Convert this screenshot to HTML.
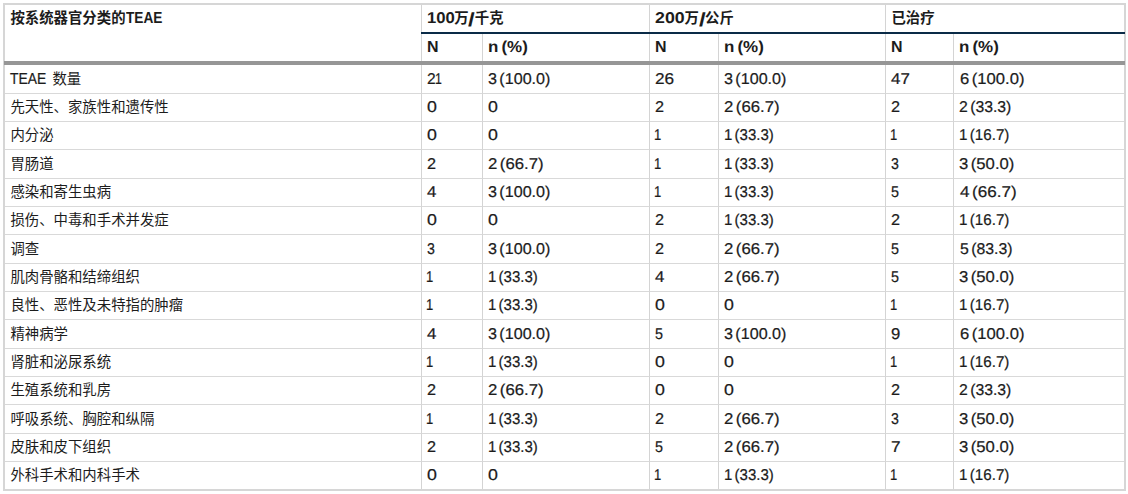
<!DOCTYPE html>
<html lang="zh-CN">
<head>
<meta charset="utf-8">
<title>TEAE</title>
<style>
html,body{margin:0;padding:0;background:#fff;}
body{width:1128px;height:494px;overflow:hidden;position:relative;font-family:"Liberation Sans","Noto Sans CJK SC",sans-serif;font-size:14.4px;color:#1c1c1c;}
table.t{position:absolute;left:3px;top:3px;width:1123px;table-layout:fixed;border-collapse:separate;border-spacing:0;border:2px solid #d6d6d6;}
col.c1{width:417px}col.c2{width:61px}col.c3{width:167px}col.c4{width:69px}col.c5{width:167px}col.c6{width:68px}col.c7{width:170px}
th,td{box-sizing:border-box;padding:0 0 0 5.4px;margin:0;text-align:left;white-space:nowrap;overflow:hidden;border-right:1px solid #d4d4d4;border-bottom:1px solid #d9d9d9;font-weight:normal;vertical-align:top;}
th.last,td.last{border-right:0}
tr.h1 th{height:29px;line-height:27px;border-bottom:2px solid transparent;font-weight:bold}
tr.h1 th.first{height:60px;border-bottom:4px solid transparent}
tr.h2 th{height:31px;line-height:27px;border-bottom:4px solid transparent;font-weight:bold}
tr.r28 td{height:29px;line-height:28px}
tr.r27 td{height:28px;line-height:27px}
tr.end td{border-bottom:0;height:27px}
span.cj{font-family:"Liberation Sans","Noto Sans CJK SC",sans-serif;font-size:14.4px;color:#1c1c1c;vertical-align:baseline}
span.l,span.lb{text-rendering:geometricPrecision;display:inline-block;transform-origin:0 84.65%;line-height:1;vertical-align:baseline}
span.l{-webkit-text-stroke:0.22px #1c1c1c}
span.lb{font-weight:bold}
div.navy{position:absolute;left:421px;top:32px;width:704px;height:2px;background:#0a2b47}
div.rule{position:absolute;left:4px;top:61px;width:1121px;height:4px;background:#969696}
</style>
</head>
<body>
<table class="t">
<colgroup><col class="c1"><col class="c2"><col class="c3"><col class="c4"><col class="c5"><col class="c6"><col class="c7"></colgroup>
<thead>
<tr class="h1"><th rowspan="2" class="first"><span class="cj">按系统器官分类的</span><span class="lb" style="font-size:15.9px;transform:scaleX(0.8581);margin:0 -6.02px 0 0.15px">TEAE</span></th><th colspan="2" class="g"><span class="lb" style="font-size:15.6px;transform:scaleX(1.0694);margin:0 1.42px 0 -0.65px">100</span><span class="cj">万</span><span class="l" style="font-size:19px;transform:scaleX(1.2692);margin:0 1.12px 0 -0.2px;position:relative;top:2.6px;-webkit-text-stroke:0">/</span><span class="cj">千克</span></th><th colspan="2" class="g"><span class="lb" style="font-size:15.6px;transform:scaleX(1.139);margin:0 3.19px 0 -0.22px">200</span><span class="cj">万</span><span class="l" style="font-size:19px;transform:scaleX(1.2692);margin:0 1.12px 0 -0.2px;position:relative;top:2.6px;-webkit-text-stroke:0">/</span><span class="cj">公斤</span></th><th colspan="2" class="g last"><span class="cj">已治疗</span></th></tr>
<tr class="h2"><th><span class="lb" style="font-size:15.9px;transform:scaleX(1.0056);margin:0 0.06px 0 -0.57px">N</span></th><th><span class="lb" style="font-size:15.9px;transform:scaleX(1.0671);margin:0 2.51px 0 -0.62px;word-spacing:-1.5px">n (%)</span></th><th><span class="lb" style="font-size:15.9px;transform:scaleX(1.0056);margin:0 0.06px 0 -0.57px">N</span></th><th><span class="lb" style="font-size:15.9px;transform:scaleX(1.0671);margin:0 2.51px 0 -0.62px;word-spacing:-1.5px">n (%)</span></th><th><span class="lb" style="font-size:15.9px;transform:scaleX(1.0056);margin:0 0.06px 0 -0.57px">N</span></th><th class="last"><span class="lb" style="font-size:15.9px;transform:scaleX(1.0671);margin:0 2.51px 0 -0.62px;word-spacing:-1.5px">n (%)</span></th></tr>
</thead>
<tbody>
<tr class="r28"><td><span class="l" style="font-size:15.9px;transform:scaleX(0.8719);margin:0 -3.42px 0 -0.11px">TEAE</span><span class="cj"> 数量</span></td><td><span class="l" style="font-size:15.6px;transform:scaleX(0.999);margin:0 0.31px 0 -0.38px">2</span><span class="l" style="font-size:15.6px;transform:scaleX(0.788);margin:0 -1.84px 0 -0.64px">1</span></td><td><span class="l" style="font-size:15.6px;transform:scaleX(1.0327);margin:0 1.97px 0 -0.01px;word-spacing:-2px">3 (100.0)</span></td><td><span class="l" style="font-size:15.6px;transform:scaleX(1.105);margin:0 1.82px 0 -0.42px">26</span></td><td><span class="l" style="font-size:15.6px;transform:scaleX(1.0327);margin:0 1.97px 0 -0.01px;word-spacing:-2px">3 (100.0)</span></td><td><span class="l" style="font-size:15.6px;transform:scaleX(1.0827);margin:0 1.44px 0 0.06px">47</span></td><td class="last"><span class="l" style="font-size:15.6px;transform:scaleX(1.0668);margin:0 4.04px 0 0.15px;word-spacing:-2px">6 (100.0)</span></td></tr>
<tr class="r27"><td><span class="cj">先天性、家族性和遗传性</span></td><td><span class="l" style="font-size:15.6px;transform:scaleX(1.1398);margin:0 1.21px 0 -0.39px">0</span></td><td><span class="l" style="font-size:15.6px;transform:scaleX(1.1398);margin:0 1.21px 0 -0.39px">0</span></td><td><span class="l" style="font-size:15.6px;transform:scaleX(1.0413);margin:0 0.36px 0 -0.32px">2</span></td><td><span class="l" style="font-size:15.6px;transform:scaleX(1.0738);margin:0 3.82px 0 -0.24px;word-spacing:-2px">2 (66.7)</span></td><td><span class="l" style="font-size:15.6px;transform:scaleX(1.0413);margin:0 0.36px 0 -0.32px">2</span></td><td class="last"><span class="l" style="font-size:15.6px;transform:scaleX(1.0118);margin:0 0.61px 0 -0.19px;word-spacing:-2px">2 (33.3)</span></td></tr>
<tr class="r27"><td><span class="cj">内分泌</span></td><td><span class="l" style="font-size:15.6px;transform:scaleX(1.1398);margin:0 1.21px 0 -0.39px">0</span></td><td><span class="l" style="font-size:15.6px;transform:scaleX(1.1398);margin:0 1.21px 0 -0.39px">0</span></td><td><span class="l" style="font-size:15.6px;transform:scaleX(0.8326);margin:0 -1.45px 0 -1.19px">1</span></td><td><span class="l" style="font-size:15.6px;transform:scaleX(0.9616);margin:0 -1.99px 0 -0.74px;word-spacing:-2px">1 (33.3)</span></td><td><span class="l" style="font-size:15.6px;transform:scaleX(0.8326);margin:0 -1.45px 0 -1.19px">1</span></td><td class="last"><span class="l" style="font-size:15.6px;transform:scaleX(0.9737);margin:0 -1.36px 0 -0.56px;word-spacing:-2px">1 (16.7)</span></td></tr>
<tr class="r28"><td><span class="cj">胃肠道</span></td><td><span class="l" style="font-size:15.6px;transform:scaleX(1.0413);margin:0 0.36px 0 -0.32px">2</span></td><td><span class="l" style="font-size:15.6px;transform:scaleX(1.0738);margin:0 3.82px 0 -0.24px;word-spacing:-2px">2 (66.7)</span></td><td><span class="l" style="font-size:15.6px;transform:scaleX(0.8326);margin:0 -1.45px 0 -1.19px">1</span></td><td><span class="l" style="font-size:15.6px;transform:scaleX(0.9616);margin:0 -1.99px 0 -0.74px;word-spacing:-2px">1 (33.3)</span></td><td><span class="l" style="font-size:15.6px;transform:scaleX(0.9059);margin:0 -0.82px 0 -0.04px">3</span></td><td class="last"><span class="l" style="font-size:15.6px;transform:scaleX(1.0697);margin:0 3.61px 0 -0.04px;word-spacing:-2px">3 (50.0)</span></td></tr>
<tr class="r27"><td><span class="cj">感染和寄生虫病</span></td><td><span class="l" style="font-size:15.6px;transform:scaleX(1.0813);margin:0 0.71px 0 -0.19px">4</span></td><td><span class="l" style="font-size:15.6px;transform:scaleX(1.0327);margin:0 1.97px 0 -0.01px;word-spacing:-2px">3 (100.0)</span></td><td><span class="l" style="font-size:15.6px;transform:scaleX(0.8326);margin:0 -1.45px 0 -1.19px">1</span></td><td><span class="l" style="font-size:15.6px;transform:scaleX(0.9616);margin:0 -1.99px 0 -0.74px;word-spacing:-2px">1 (33.3)</span></td><td><span class="l" style="font-size:15.6px;transform:scaleX(0.9194);margin:0 -0.7px 0 -0.07px">5</span></td><td class="last"><span class="l" style="font-size:15.6px;transform:scaleX(1.0944);margin:0 4.89px 0 0.21px;word-spacing:-2px">4 (66.7)</span></td></tr>
<tr class="r27"><td><span class="cj">损伤、中毒和手术并发症</span></td><td><span class="l" style="font-size:15.6px;transform:scaleX(1.1398);margin:0 1.21px 0 -0.39px">0</span></td><td><span class="l" style="font-size:15.6px;transform:scaleX(1.1398);margin:0 1.21px 0 -0.39px">0</span></td><td><span class="l" style="font-size:15.6px;transform:scaleX(1.0413);margin:0 0.36px 0 -0.32px">2</span></td><td><span class="l" style="font-size:15.6px;transform:scaleX(0.9616);margin:0 -1.99px 0 -0.74px;word-spacing:-2px">1 (33.3)</span></td><td><span class="l" style="font-size:15.6px;transform:scaleX(1.0413);margin:0 0.36px 0 -0.32px">2</span></td><td class="last"><span class="l" style="font-size:15.6px;transform:scaleX(0.9737);margin:0 -1.36px 0 -0.56px;word-spacing:-2px">1 (16.7)</span></td></tr>
<tr class="r28"><td><span class="cj">调查</span></td><td><span class="l" style="font-size:15.6px;transform:scaleX(0.9059);margin:0 -0.82px 0 -0.04px">3</span></td><td><span class="l" style="font-size:15.6px;transform:scaleX(1.0327);margin:0 1.97px 0 -0.01px;word-spacing:-2px">3 (100.0)</span></td><td><span class="l" style="font-size:15.6px;transform:scaleX(1.0413);margin:0 0.36px 0 -0.32px">2</span></td><td><span class="l" style="font-size:15.6px;transform:scaleX(1.0738);margin:0 3.82px 0 -0.24px;word-spacing:-2px">2 (66.7)</span></td><td><span class="l" style="font-size:15.6px;transform:scaleX(0.9194);margin:0 -0.7px 0 -0.07px">5</span></td><td class="last"><span class="l" style="font-size:15.6px;transform:scaleX(1.0145);margin:0 0.75px 0 0.27px;word-spacing:-2px">5 (83.3)</span></td></tr>
<tr class="r27"><td><span class="cj">肌肉骨骼和结缔组织</span></td><td><span class="l" style="font-size:15.6px;transform:scaleX(0.8326);margin:0 -1.45px 0 -1.19px">1</span></td><td><span class="l" style="font-size:15.6px;transform:scaleX(0.9616);margin:0 -1.99px 0 -0.74px;word-spacing:-2px">1 (33.3)</span></td><td><span class="l" style="font-size:15.6px;transform:scaleX(1.0813);margin:0 0.71px 0 -0.19px">4</span></td><td><span class="l" style="font-size:15.6px;transform:scaleX(1.0738);margin:0 3.82px 0 -0.24px;word-spacing:-2px">2 (66.7)</span></td><td><span class="l" style="font-size:15.6px;transform:scaleX(0.9194);margin:0 -0.7px 0 -0.07px">5</span></td><td class="last"><span class="l" style="font-size:15.6px;transform:scaleX(1.0697);margin:0 3.61px 0 -0.04px;word-spacing:-2px">3 (50.0)</span></td></tr>
<tr class="r27"><td><span class="cj">良性、恶性及未特指的肿瘤</span></td><td><span class="l" style="font-size:15.6px;transform:scaleX(0.8326);margin:0 -1.45px 0 -1.19px">1</span></td><td><span class="l" style="font-size:15.6px;transform:scaleX(0.9616);margin:0 -1.99px 0 -0.74px;word-spacing:-2px">1 (33.3)</span></td><td><span class="l" style="font-size:15.6px;transform:scaleX(1.1398);margin:0 1.21px 0 -0.39px">0</span></td><td><span class="l" style="font-size:15.6px;transform:scaleX(1.1398);margin:0 1.21px 0 -0.39px">0</span></td><td><span class="l" style="font-size:15.6px;transform:scaleX(0.8326);margin:0 -1.45px 0 -1.19px">1</span></td><td class="last"><span class="l" style="font-size:15.6px;transform:scaleX(0.9737);margin:0 -1.36px 0 -0.56px;word-spacing:-2px">1 (16.7)</span></td></tr>
<tr class="r28"><td><span class="cj">精神病学</span></td><td><span class="l" style="font-size:15.6px;transform:scaleX(1.0813);margin:0 0.71px 0 -0.19px">4</span></td><td><span class="l" style="font-size:15.6px;transform:scaleX(1.0327);margin:0 1.97px 0 -0.01px;word-spacing:-2px">3 (100.0)</span></td><td><span class="l" style="font-size:15.6px;transform:scaleX(0.9194);margin:0 -0.7px 0 -0.07px">5</span></td><td><span class="l" style="font-size:15.6px;transform:scaleX(1.0327);margin:0 1.97px 0 -0.01px;word-spacing:-2px">3 (100.0)</span></td><td><span class="l" style="font-size:15.6px;transform:scaleX(1.0686);margin:0 0.59px 0 -0.28px">9</span></td><td class="last"><span class="l" style="font-size:15.6px;transform:scaleX(1.0668);margin:0 4.04px 0 0.15px;word-spacing:-2px">6 (100.0)</span></td></tr>
<tr class="r27"><td><span class="cj">肾脏和泌尿系统</span></td><td><span class="l" style="font-size:15.6px;transform:scaleX(0.8326);margin:0 -1.45px 0 -1.19px">1</span></td><td><span class="l" style="font-size:15.6px;transform:scaleX(0.9616);margin:0 -1.99px 0 -0.74px;word-spacing:-2px">1 (33.3)</span></td><td><span class="l" style="font-size:15.6px;transform:scaleX(1.1398);margin:0 1.21px 0 -0.39px">0</span></td><td><span class="l" style="font-size:15.6px;transform:scaleX(1.1398);margin:0 1.21px 0 -0.39px">0</span></td><td><span class="l" style="font-size:15.6px;transform:scaleX(0.8326);margin:0 -1.45px 0 -1.19px">1</span></td><td class="last"><span class="l" style="font-size:15.6px;transform:scaleX(0.9737);margin:0 -1.36px 0 -0.56px;word-spacing:-2px">1 (16.7)</span></td></tr>
<tr class="r27"><td><span class="cj">生殖系统和乳房</span></td><td><span class="l" style="font-size:15.6px;transform:scaleX(1.0413);margin:0 0.36px 0 -0.32px">2</span></td><td><span class="l" style="font-size:15.6px;transform:scaleX(1.0738);margin:0 3.82px 0 -0.24px;word-spacing:-2px">2 (66.7)</span></td><td><span class="l" style="font-size:15.6px;transform:scaleX(1.1398);margin:0 1.21px 0 -0.39px">0</span></td><td><span class="l" style="font-size:15.6px;transform:scaleX(1.1398);margin:0 1.21px 0 -0.39px">0</span></td><td><span class="l" style="font-size:15.6px;transform:scaleX(1.0413);margin:0 0.36px 0 -0.32px">2</span></td><td class="last"><span class="l" style="font-size:15.6px;transform:scaleX(1.0118);margin:0 0.61px 0 -0.19px;word-spacing:-2px">2 (33.3)</span></td></tr>
<tr class="r28"><td><span class="cj">呼吸系统、胸腔和纵隔</span></td><td><span class="l" style="font-size:15.6px;transform:scaleX(0.8326);margin:0 -1.45px 0 -1.19px">1</span></td><td><span class="l" style="font-size:15.6px;transform:scaleX(0.9616);margin:0 -1.99px 0 -0.74px;word-spacing:-2px">1 (33.3)</span></td><td><span class="l" style="font-size:15.6px;transform:scaleX(1.0413);margin:0 0.36px 0 -0.32px">2</span></td><td><span class="l" style="font-size:15.6px;transform:scaleX(1.0738);margin:0 3.82px 0 -0.24px;word-spacing:-2px">2 (66.7)</span></td><td><span class="l" style="font-size:15.6px;transform:scaleX(0.9059);margin:0 -0.82px 0 -0.04px">3</span></td><td class="last"><span class="l" style="font-size:15.6px;transform:scaleX(1.0697);margin:0 3.61px 0 -0.04px;word-spacing:-2px">3 (50.0)</span></td></tr>
<tr class="r27"><td><span class="cj">皮肤和皮下组织</span></td><td><span class="l" style="font-size:15.6px;transform:scaleX(1.0413);margin:0 0.36px 0 -0.32px">2</span></td><td><span class="l" style="font-size:15.6px;transform:scaleX(0.9616);margin:0 -1.99px 0 -0.74px;word-spacing:-2px">1 (33.3)</span></td><td><span class="l" style="font-size:15.6px;transform:scaleX(0.9194);margin:0 -0.7px 0 -0.07px">5</span></td><td><span class="l" style="font-size:15.6px;transform:scaleX(1.0738);margin:0 3.82px 0 -0.24px;word-spacing:-2px">2 (66.7)</span></td><td><span class="l" style="font-size:15.6px;transform:scaleX(1.0999);margin:0 0.87px 0 -0.38px">7</span></td><td class="last"><span class="l" style="font-size:15.6px;transform:scaleX(1.0697);margin:0 3.61px 0 -0.04px;word-spacing:-2px">3 (50.0)</span></td></tr>
<tr class="r27 end"><td><span class="cj">外科手术和内科手术</span></td><td><span class="l" style="font-size:15.6px;transform:scaleX(1.1398);margin:0 1.21px 0 -0.39px">0</span></td><td><span class="l" style="font-size:15.6px;transform:scaleX(1.1398);margin:0 1.21px 0 -0.39px">0</span></td><td><span class="l" style="font-size:15.6px;transform:scaleX(0.8326);margin:0 -1.45px 0 -1.19px">1</span></td><td><span class="l" style="font-size:15.6px;transform:scaleX(0.9616);margin:0 -1.99px 0 -0.74px;word-spacing:-2px">1 (33.3)</span></td><td><span class="l" style="font-size:15.6px;transform:scaleX(0.8326);margin:0 -1.45px 0 -1.19px">1</span></td><td class="last"><span class="l" style="font-size:15.6px;transform:scaleX(0.9737);margin:0 -1.36px 0 -0.56px;word-spacing:-2px">1 (16.7)</span></td></tr>
</tbody>
</table>
<div class="navy"></div>
<div class="rule"></div>
</body>
</html>
